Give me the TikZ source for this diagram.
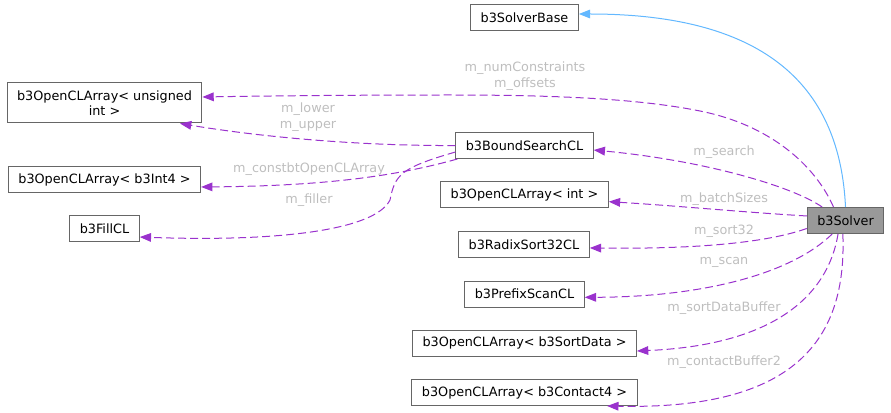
\documentclass[tikz,border=0pt]{standalone}
\usepackage{fontspec}
\setmainfont{DejaVu Sans}
\usetikzlibrary{arrows.meta}
\definecolor{boxgrey}{HTML}{666666}
\definecolor{solvergrey}{HTML}{999999}
\definecolor{labelgrey}{HTML}{BEBEBE}
\definecolor{usepurple}{HTML}{9A32CD}
\definecolor{inheritblue}{HTML}{63B8FF}
\tikzset{
	classbox/.style={draw=boxgrey,line width=0.75pt,fill=white,inner xsep=7.5pt,inner ysep=0pt,minimum height=19.5pt,font=\fontsize{9.6}{11.5}\selectfont,align=center},
	memberlabel/.style={text=labelgrey,font=\fontsize{9.6}{11.5}\selectfont,align=center,inner sep=0pt},
	usage/.style={draw=usepurple,line width=0.75pt,dash pattern=on 6pt off 3pt,-{Triangle[length=8.5pt,width=6.5pt,fill=usepurple]}},
	inherit/.style={draw=inheritblue,line width=0.75pt,-{Triangle[length=8.5pt,width=6.5pt,fill=inheritblue]}}
}
\begin{document}
\begin{tikzpicture}[x=0.75pt,y=-0.75pt]
		\useasboundingbox (0,0) rectangle (891,413);
		%Classes
		\node[classbox] (base) at (524.5,18) {b3SolverBase};
		\node[classbox,minimum height=30pt] (uint) at (104.5,103) {b3OpenCLArray< unsigned\\int >};
		\node[classbox] (bound) at (524.5,145.5) {b3BoundSearchCL};
		\node[classbox] (int4) at (104.5,179.5) {b3OpenCLArray< b3Int4 >};
		\node[classbox] (fill) at (104.5,228.5) {b3FillCL};
		\node[classbox] (intarr) at (524.5,195) {b3OpenCLArray< int >};
		\node[classbox] (radix) at (524,244.5) {b3RadixSort32CL};
		\node[classbox] (prefix) at (524.5,294) {b3PrefixScanCL};
		\node[classbox] (sortdata) at (524.5,343) {b3OpenCLArray< b3SortData >};
		\node[classbox] (contact) at (524.5,392.5) {b3OpenCLArray< b3Contact4 >};
		\node[classbox,fill=solvergrey] (solver) at (845.5,220.5) {b3Solver};

		% Inheritance
		\draw[inherit] (solver.north) .. controls (840,90) and (770,14) .. ([yshift=3pt]base.east);

		% Members of b3Solver
		\draw[usage] ([xshift=-9pt]solver.north) .. controls (815,165) and (770,125) .. (700,111) .. controls (640,99) and (560,95) .. (450,95) .. controls (350,95) and (260,96) .. ([yshift=4.5pt]uint.east);
		\draw[usage] ([xshift=-17.5pt]solver.north) .. controls (790,185) and (700,160) .. ([yshift=-3.4pt]bound.east);
		\draw[usage] ([yshift=3.4pt]solver.west) .. controls (740,212) and (680,206) .. ([yshift=-5pt]intarr.east);
		\draw[usage] ([yshift=-6pt]solver.west) .. controls (760,245) and (680,249) .. ([yshift=-2.6pt]radix.east);
		\draw[usage] ([xshift=-10pt]solver.south) .. controls (790,275) and (700,297) .. ([yshift=-2.5pt]prefix.east);
		\draw[usage] ([xshift=-5.6pt]solver.south) .. controls (828,295) and (775,345) .. ([yshift=-6pt]sortdata.east);
		\draw[usage] ([xshift=-2pt]solver.south) .. controls (847,340) and (795,410) .. ([xshift=62pt]contact.south);

		% Members of b3BoundSearchCL
		\draw[usage] (bound.west) .. controls (380,146) and (280,140) .. ([xshift=56.6pt]uint.south);
		\draw[usage] ([xshift=1.5pt]bound.south west) .. controls (400,175) and (330,186) .. ([yshift=-5.6pt]int4.east);
		\draw[usage] ([yshift=-4.9pt]bound.west) .. controls (400,168) and (395,175) .. (390,200) .. controls (375,230) and (280,242) .. ([yshift=-6.4pt]fill.east);

		% Labels
		\node[memberlabel] (lnum) at (525,76) {m\_numConstraints\\m\_offsets};
		\node[memberlabel] (llow) at (308,117) {m\_lower\\m\_upper};
		\node[memberlabel] (lconst) at (309,169) {m\_constbtOpenCLArray};
		\node[memberlabel] (lfill) at (309,200) {m\_filler};
		\node[memberlabel] (lsearch) at (724,152) {m\_search};
		\node[memberlabel] (lbatch) at (724,199) {m\_batchSizes};
		\node[memberlabel] (lsort) at (724,231) {m\_sort32};
		\node[memberlabel] (lscan) at (724,262) {m\_scan};
		\node[memberlabel] (lsortdata) at (724,308) {m\_sortDataBuffer};
		\node[memberlabel] (lcontact) at (724,362) {m\_contactBuffer2};
\end{tikzpicture}
\end{document}
